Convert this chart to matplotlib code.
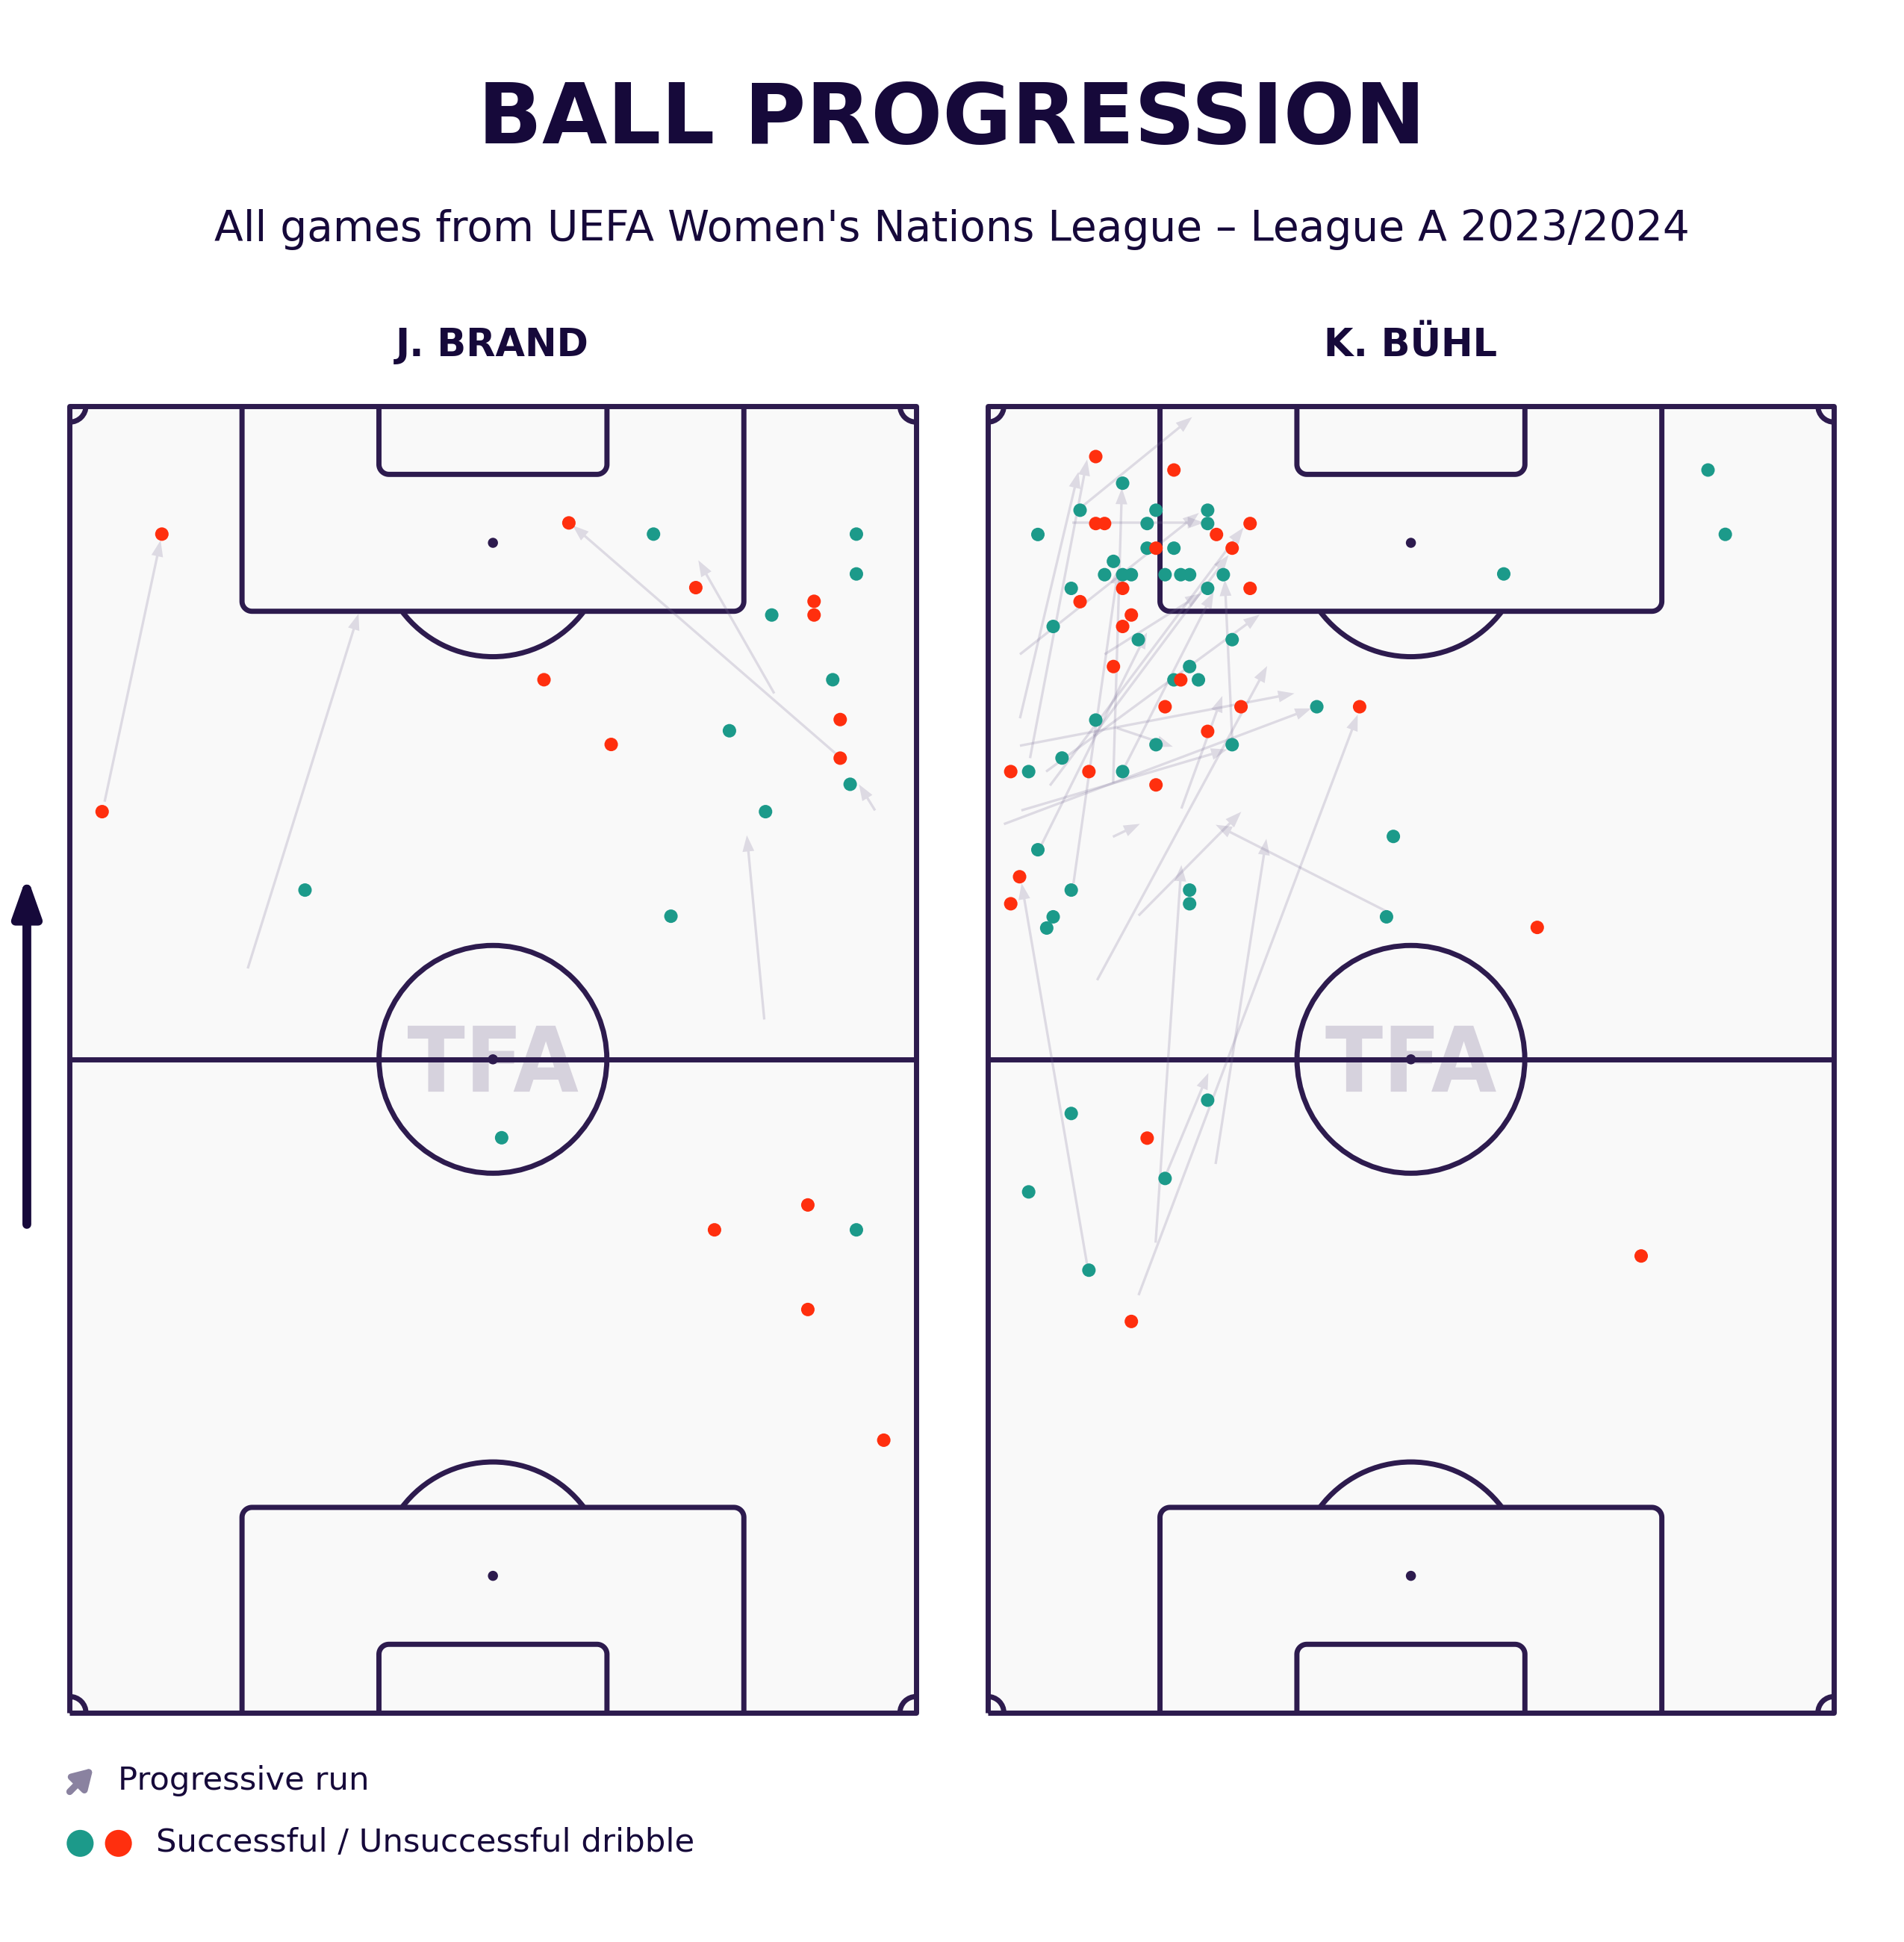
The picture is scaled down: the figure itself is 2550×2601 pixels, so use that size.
import numpy as np
import matplotlib
matplotlib.use("Agg")
import matplotlib.pyplot as plt
from matplotlib.patches import Arc, Circle, Rectangle, PathPatch, FancyArrowPatch
from matplotlib.textpath import TextPath
from matplotlib.font_manager import FontProperties
from matplotlib.transforms import Affine2D

# ---- data (pitch in metres: x across 0-68, y along 0-105, attacking upwards) ----
brand_ok_x = [46.9, 63.2, 63.2, 56.4, 61.3, 53.0, 62.7, 55.9, 18.9, 48.3, 34.7, 63.2]
brand_ok_y = [94.7, 94.7, 91.5, 88.2, 83.0, 78.9, 74.6, 72.4, 66.1, 64.0, 46.2, 38.8]
brand_fail_x = [7.4, 2.6, 40.1, 50.3, 59.8, 59.8, 38.1, 61.9, 43.5, 61.9, 59.3, 51.8, 59.3, 65.4]
brand_fail_y = [94.7, 72.4, 95.6, 90.4, 89.3, 88.2, 83.0, 79.8, 77.8, 76.7, 40.8, 38.8, 32.4, 21.9]
brand_run_x0 = [2.8, 14.3, 61.5, 56.6, 64.7, 55.8]
brand_run_y0 = [73.2, 59.8, 77.1, 81.9, 72.5, 55.7]
brand_run_x1 = [7.3, 23.2, 40.4, 50.5, 63.4, 54.4]
brand_run_y1 = [94.2, 88.3, 95.4, 92.6, 74.6, 70.5]

buhl_ok_x = [10.84, 7.42, 13.52, 17.67, 4.03, 12.81, 17.67, 12.81, 14.96, 10.10, 9.39, 10.84,
             11.54, 14.25, 15.51, 16.22, 18.93, 17.67, 6.71, 5.26, 12.10, 19.64, 16.22, 14.96,
             16.93, 26.44, 8.68, 13.52, 19.64, 5.97, 3.29, 10.84, 4.03, 32.59, 6.71, 16.22,
             16.22, 5.26, 32.04, 4.74, 6.71, 17.67, 14.25, 3.29, 8.13, 57.87, 59.26, 41.46]
buhl_ok_y = [98.79, 96.62, 96.62, 96.62, 94.67, 95.55, 95.55, 93.57, 93.57, 92.51, 91.44, 91.44,
             91.44, 91.44, 91.44, 91.44, 91.44, 90.34, 90.34, 87.28, 86.22, 86.22, 84.06, 82.99,
             82.99, 80.83, 79.76, 77.78, 77.78, 76.71, 75.62, 75.62, 69.34, 70.41, 66.10, 66.10,
             65.00, 63.95, 63.95, 63.05, 48.15, 49.22, 42.93, 41.85, 35.56, 99.85, 94.68, 91.50]
buhl_fail_x = [8.68, 14.96, 8.68, 9.39, 21.08, 18.38, 13.52, 19.64, 10.84, 7.42, 21.08, 11.54,
               10.84, 10.10, 15.51, 14.25, 20.35, 29.88, 17.67, 1.85, 8.13, 13.52, 2.56, 1.85,
               12.81, 11.54, 44.15, 52.5]
buhl_fail_y = [100.93, 99.85, 95.55, 95.55, 95.55, 94.67, 93.57, 93.57, 90.34, 89.27, 90.34, 88.20,
               87.28, 84.06, 82.99, 80.83, 80.83, 80.83, 78.85, 75.62, 75.62, 74.55, 67.17, 65.00,
               46.17, 31.44, 63.1, 36.7]
buhl_run_x0 = [2.59, 3.40, 2.59, 1.30, 2.70, 4.30, 12.12, 7.99, 13.49, 12.12, 32.06, 18.31, 14.41,
               8.79, 15.56, 10.06, 6.79, 7.69, 10.08, 6.89, 2.59, 9.39, 5.0, 19.65, 4.69, 8.5,
               11.0, 10.38]
buhl_run_y0 = [79.9, 76.7, 77.7, 71.4, 72.5, 69.7, 33.55, 35.98, 37.77, 64.05, 64.38, 44.09, 43.45,
               58.86, 72.65, 70.38, 95.62, 97.0, 74.72, 66.64, 85.04, 85.04, 74.5, 78.1, 75.62, 78.5,
               76.0, 79.12]
buhl_run_x1 = [7.29, 7.99, 24.64, 26.0, 19.25, 12.8, 29.73, 2.72, 15.56, 20.37, 18.31, 22.39, 17.73,
               22.45, 18.85, 12.23, 17.37, 16.42, 10.78, 10.5, 16.97, 17.17, 20.55, 19.05, 21.85,
               19.35, 18.15, 14.87]
buhl_run_y1 = [99.7, 100.7, 81.9, 80.7, 77.4, 86.8, 80.2, 66.65, 68.11, 72.39, 71.35, 70.22, 51.4,
               84.1, 81.7, 71.42, 95.62, 104.1, 98.4, 92.0, 96.4, 89.93, 95.22, 91.03, 88.23, 93.02,
               90.03, 77.62]

TXT = '#16093a'
LINE = '#2d1b4e'
TEAL = '#1c9a8a'
RED = '#ff2f0e'
RUN = '#7a6f96'

fig = plt.figure(figsize=(10.2, 10.404), dpi=250)
fig.patch.set_facecolor('white')


def box(ax, x0, x1, yg, yf, r, kw):
    s = np.sign(yf - yg)
    t = np.linspace(0, np.pi / 2, 15)
    xs = [x0, x0] + list(x0 + r - r * np.cos(t)) + list(x1 - r + r * np.sin(t)) + [x1, x1]
    ys = [yg, yf - s * r] + list(yf - s * r + s * r * np.sin(t)) + list(yf - s * r + s * r * np.cos(t)) + [yf - s * r, yg]
    ax.plot(xs, ys, **kw)


def draw_pitch(ax):
    lw = 2.0
    kw = dict(color=LINE, lw=lw, zorder=2, solid_capstyle='butt', solid_joinstyle='round')
    ax.add_patch(Rectangle((0, 0), 68, 105, facecolor='#f9f9f9', edgecolor='none', zorder=0))
    # watermark
    tp = TextPath((0, 0), 'TFA', size=1, prop=FontProperties(family='DejaVu Sans', weight='bold'))
    ext = tp.get_extents()
    sx = 13.7 / ext.width
    sy = 5.3 / ext.height
    tr = Affine2D().translate(-ext.x0 - ext.width / 2, -ext.y0 - ext.height / 2).scale(sx, sy).translate(34.0, 52.55)
    ax.add_patch(PathPatch(tr.transform_path(tp), facecolor='#d6d2dd', edgecolor='none', zorder=1))
    ax.plot([0, 68, 68, 0, 0], [0, 0, 105, 105, 0], **kw)
    ax.plot([0, 68], [52.5, 52.5], **kw)
    ax.add_patch(Circle((34, 52.5), 9.15, fill=False, ec=LINE, lw=lw, zorder=2))
    ax.add_patch(Circle((34, 52.5), 0.3, color=LINE, zorder=2))
    for end in (0, 105):
        s = 1 if end == 0 else -1
        box(ax, 34 - 20.16, 34 + 20.16, end, end + s * 16.5, 0.8, kw)
        box(ax, 34 - 9.16, 34 + 9.16, end, end + s * 5.5, 0.8, kw)
        spot = end + s * 11
        ax.add_patch(Circle((34, spot), 0.3, color=LINE, zorder=2))
        if s == 1:
            ax.add_patch(Arc((34, spot), 18.3, 18.3, theta1=36.87, theta2=143.13, ec=LINE, lw=lw, zorder=2))
        else:
            ax.add_patch(Arc((34, spot), 18.3, 18.3, theta1=216.87, theta2=323.13, ec=LINE, lw=lw, zorder=2))
    for (cx, cy, a) in [(0, 0, 0), (68, 0, 90), (68, 105, 180), (0, 105, 270)]:
        ax.add_patch(Arc((cx, cy), 2.6, 2.6, theta1=a, theta2=a + 90, ec=LINE, lw=lw, zorder=2))
    ax.set_xlim(-0.5, 68.5)
    ax.set_ylim(-0.5, 105.5)
    ax.set_aspect('equal')
    ax.axis('off')


def draw_player(ax, okx, oky, fx, fy, x0, y0, x1, y1):
    draw_pitch(ax)
    for a, b, c, d in zip(x0, y0, x1, y1):
        ax.arrow(a, b, c - a, d - b, width=0.2, head_width=0.95, head_length=1.3,
                 length_includes_head=True, fc=RUN, ec='none', alpha=0.22, zorder=3)
    ax.scatter(okx, oky, s=27, color=TEAL, edgecolors='none', zorder=4)
    ax.scatter(fx, fy, s=27, color=RED, edgecolors='none', zorder=4)


ax1 = fig.add_axes([0.03337, 0.11484, 0.45106, 0.67935])
ax2 = fig.add_axes([0.51549, 0.11484, 0.45106, 0.67935])
draw_player(ax1, brand_ok_x, brand_ok_y, brand_fail_x, brand_fail_y,
            brand_run_x0, brand_run_y0, brand_run_x1, brand_run_y1)
draw_player(ax2, buhl_ok_x, buhl_ok_y, buhl_fail_x, buhl_fail_y,
            buhl_run_x0, buhl_run_y0, buhl_run_x1, buhl_run_y1)

fig.text(0.5, 0.9263, 'BALL PROGRESSION', ha='center', va='baseline', fontsize=32.5,
         fontweight='heavy', color=TXT)
fig.text(0.5, 0.8757, "All games from UEFA Women's Nations League \u2013 League A 2023/2024",
         ha='center', va='baseline', fontsize=16.3, color=TXT)
fig.text(0.2586, 0.8167, 'J. BRAND', ha='center', va='baseline', fontsize=14.7,
         fontweight='bold', color=TXT)
fig.text(0.741, 0.8167, 'K. BÜHL', ha='center', va='baseline', fontsize=14.7,
         fontweight='bold', color=TXT)

# direction of play arrow
fig.add_artist(FancyArrowPatch((0.0141, 0.3695), (0.0141, 0.549), transform=fig.transFigure,
                               arrowstyle='-|>,head_length=0.62,head_width=0.22', mutation_scale=20,
                               lw=3.4, color=TXT, shrinkA=0, shrinkB=0, capstyle='round'))

# legend
fig.add_artist(FancyArrowPatch((0.0366, 0.0774), (0.0490, 0.0897), transform=fig.transFigure,
                               arrowstyle='-|>,head_length=0.5,head_width=0.3', mutation_scale=12,
                               lw=2.6, color='#8a82a0', shrinkA=0, shrinkB=0))
fig.text(0.0618, 0.0785, 'Progressive run', ha='left', va='baseline', fontsize=12.5, color=TXT)
lax = fig.add_axes([0, 0, 1, 1], facecolor='none')
lax.set_xlim(0, 1)
lax.set_ylim(0, 1)
lax.axis('off')
lax.scatter([0.0421, 0.0622], [0.0508, 0.0508], s=108, color=[TEAL, RED], edgecolors='none')
fig.text(0.0820, 0.0465, 'Successful / Unsuccessful dribble', ha='left', va='baseline',
         fontsize=12.5, color=TXT)

fig.savefig('out.png', dpi=250, facecolor='white')
